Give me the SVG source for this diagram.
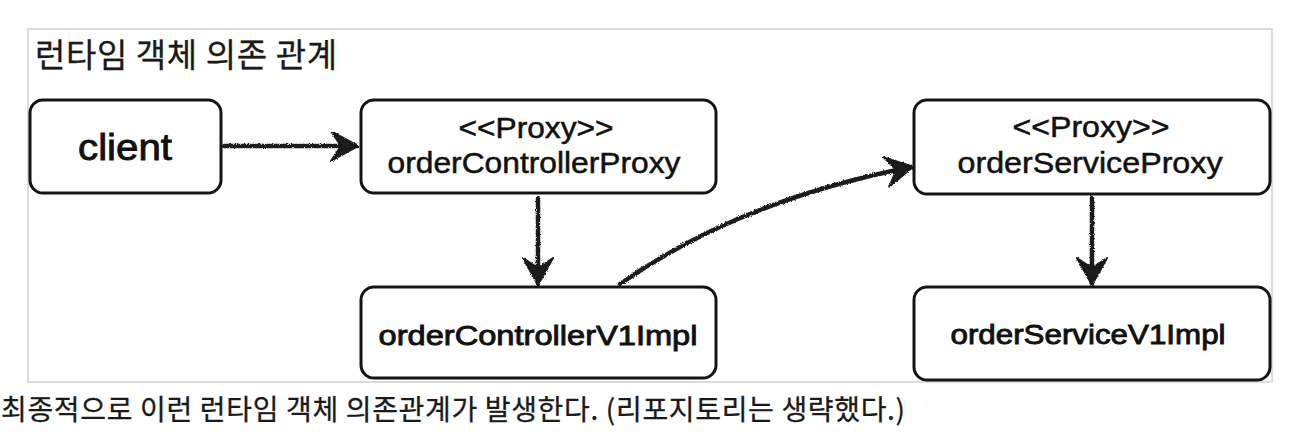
<svg xmlns="http://www.w3.org/2000/svg" width="1312" height="434" viewBox="0 0 1312 434">
  <style>
    .box { fill: #ffffff; stroke: #141414; stroke-width: 3; }
    .lbl { font-family: "Liberation Sans", Arial, sans-serif; fill: #111111; text-anchor: middle; stroke: #111111; stroke-width: 0.5; }
    .b { stroke-width: 0.9; }
    .ko { font-family: "Noto Sans CJK KR", "Noto Sans", sans-serif; fill: #1a1a1a; font-weight: 400; stroke: #1a1a1a; stroke-width: 0.3; }
    .conn { fill: none; stroke: #1a1a1a; stroke-width: 4.5; stroke-linecap: round; }
  </style>
  <defs>
    <marker id="arrow" viewBox="0 0 28 32" refX="27" refY="16" markerWidth="28" markerHeight="32" markerUnits="userSpaceOnUse" orient="auto">
      <path d="M1,1 L28,16 L1,31 L11,16 Z" fill="#1a1a1a" stroke="#1a1a1a" stroke-width="2" stroke-linejoin="round"/>
    </marker>
    <filter id="rough" x="-10%" y="-10%" width="120%" height="120%">
      <feTurbulence type="fractalNoise" baseFrequency="0.9" numOctaves="2" seed="3" result="n"/>
      <feDisplacementMap in="SourceGraphic" in2="n" scale="3" xChannelSelector="R" yChannelSelector="G"/>
    </filter>
  </defs>

  <rect x="0" y="0" width="1312" height="434" fill="#ffffff"/>
  <rect id="frame" x="28" y="29" width="1244" height="353" fill="#ffffff" stroke="#dcdcdc" stroke-width="2"/>

  <text id="title" class="ko" x="35" y="67" font-size="33" textLength="302" lengthAdjust="spacing">런타임 객체 의존 관계</text>

  <g id="connectors" filter="url(#rough)">
    <path class="conn" d="M224,146 L357,146" marker-end="url(#arrow)"/>
    <path class="conn" d="M538,198 L538,284" marker-end="url(#arrow)"/>
    <path class="conn" d="M620,284 Q740,200 912,167" marker-end="url(#arrow)"/>
    <path class="conn" d="M1092,198 L1092,284" marker-end="url(#arrow)"/>
  </g>

  <g id="client">
    <rect class="box" x="30" y="100" width="191" height="93" rx="13"/>
    <text class="lbl b" x="125" y="160" font-size="37" textLength="94" lengthAdjust="spacingAndGlyphs">client</text>
  </g>

  <g id="orderControllerProxy">
    <rect class="box" x="361" y="100" width="355" height="93" rx="13"/>
    <text class="lbl" x="536" y="138" font-size="29" textLength="155" lengthAdjust="spacingAndGlyphs">&lt;&lt;Proxy&gt;&gt;</text>
    <text class="lbl" x="534" y="173" font-size="29" textLength="293" lengthAdjust="spacingAndGlyphs">orderControllerProxy</text>
  </g>

  <g id="orderControllerV1Impl">
    <rect class="box" x="361" y="287" width="355" height="91" rx="13"/>
    <text class="lbl b" x="538" y="345" font-size="28" textLength="319" lengthAdjust="spacingAndGlyphs">orderControllerV1Impl</text>
  </g>

  <g id="orderServiceProxy">
    <rect class="box" x="914" y="100" width="356" height="94" rx="13"/>
    <text class="lbl" x="1091" y="137" font-size="29" textLength="157" lengthAdjust="spacingAndGlyphs">&lt;&lt;Proxy&gt;&gt;</text>
    <text class="lbl" x="1090" y="173" font-size="29" textLength="265" lengthAdjust="spacingAndGlyphs">orderServiceProxy</text>
  </g>

  <g id="orderServiceV1Impl">
    <rect class="box" x="914" y="287" width="356" height="93" rx="13"/>
    <text class="lbl b" x="1088" y="344" font-size="28" textLength="275" lengthAdjust="spacingAndGlyphs">orderServiceV1Impl</text>
  </g>

  <text id="caption" class="ko" x="1" y="420" font-size="28" textLength="904" lengthAdjust="spacing">최종적으로 이런 런타임 객체 의존관계가 발생한다. (리포지토리는 생략했다.)</text>
</svg>
